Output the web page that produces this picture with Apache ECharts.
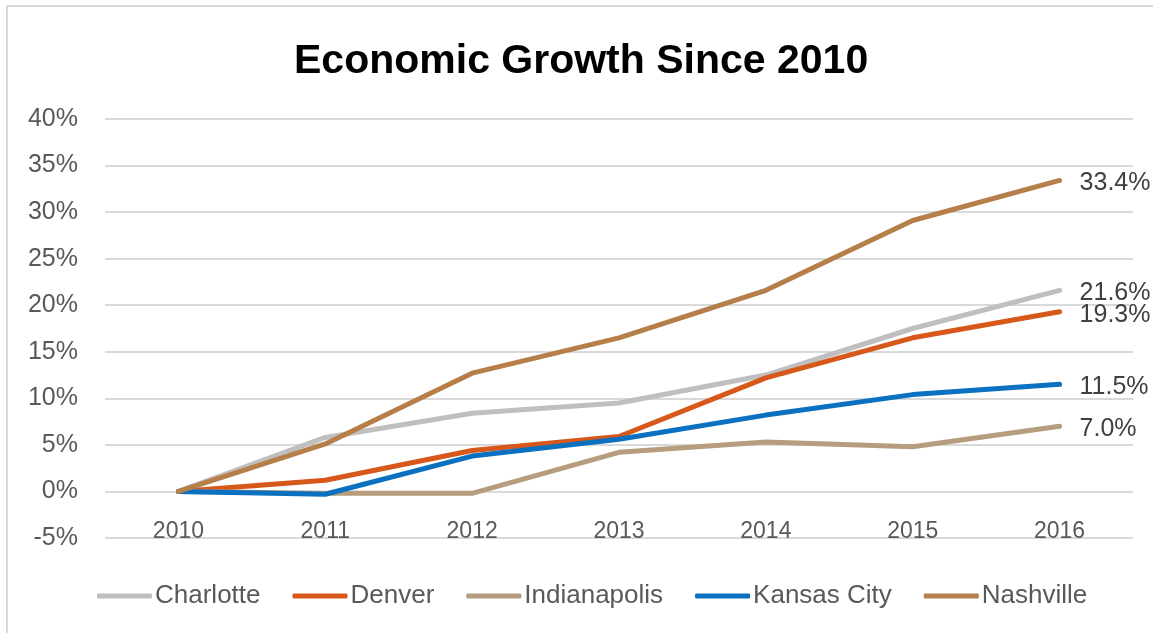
<!DOCTYPE html>
<html>
<head>
<meta charset="utf-8">
<title>Economic Growth Since 2010</title>
<script src="https://cdn.jsdelivr.net/npm/echarts@6/dist/echarts.min.js"></script>
<style>
    html, body { margin: 0; padding: 0; background: #fff; }
    #main { width: 1153px; height: 633px; }
</style>
</head>
<body>
<div id="main"></div>
<script>
// x 轴年份
var years = ['2010', '2011', '2012', '2013', '2014', '2015', '2016']
// 各城市增长率 (%)
var charlotte = [0, 5.8, 8.4, 9.5, 12.5, 17.5, 21.6]
var denver = [0, 1.2, 4.4, 5.9, 12.2, 16.5, 19.3]
var indianapolis = [0, -0.2, -0.2, 4.2, 5.3, 4.8, 7.0]
var kansasCity = [0, -0.3, 3.8, 5.6, 8.2, 10.4, 11.5]
var nashville = [0, 5.1, 12.7, 16.5, 21.6, 29.1, 33.4]

var seriesList = [
    { name: 'Charlotte', data: charlotte, color: '#bfbfbf' },
    { name: 'Denver', data: denver, color: '#d6581a' },
    { name: 'Indianapolis', data: indianapolis, color: '#b59d7e' },
    { name: 'Kansas City', data: kansasCity, color: '#0a70c0' },
    { name: 'Nashville', data: nashville, color: '#b67f4a' },
]

var fontFamily = 'Liberation Sans, Arial, sans-serif'
var chart = echarts.init(document.getElementById('main'))

var seriesData = []
seriesList.forEach(function (ele) {
    seriesData.push({
        name: ele.name,
        type: 'line',
        data: ele.data,
        symbol: 'none',
        smooth: false,
        color: ele.color,
        lineStyle: { width: 5, color: ele.color, cap: 'round', join: 'round' },
        label: { show: false },
        // 只在最后一个点显示数值
        endLabel: {
            show: true,
            distance: 20,
            offset: [0, 3],
            color: '#404040',
            fontSize: 25,
            fontFamily: fontFamily,
            formatter: function (p) {
                return p.value.toFixed(1) + '%'
            },
        },
    })
})

var option = {
    animation: false,
    title: {
        text: 'Economic Growth Since 2010',
        left: 289,
        top: 36,
        textStyle: {
            color: '#000',
            fontSize: 41,
            fontWeight: 'bold',
            fontFamily: fontFamily,
        },
    },
    graphic: [
        // 图表外框 (左/上)
        { type: 'line', shape: { x1: 7, y1: 6, x2: 7, y2: 633 }, style: { stroke: '#d9d9d9', lineWidth: 2 } },
        { type: 'line', shape: { x1: 7, y1: 6, x2: 1153, y2: 6 }, style: { stroke: '#d9d9d9', lineWidth: 2 } },
    ],
    grid: {
        left: 105,
        right: 20,
        top: 119,
        bottom: 95,
        containLabel: false,
    },
    legend: {
        bottom: 19,
        left: 92,
        icon: 'roundRect',
        itemWidth: 55,
        itemHeight: 5,
        itemGap: 32,
        textStyle: {
            color: '#595959',
            fontSize: 26,
            fontFamily: fontFamily,
            padding: [0, 0, 0, -2],
        },
        data: seriesList.map(function (s) { return s.name }),
    },
    xAxis: {
        type: 'category',
        data: years,
        boundaryGap: true,
        axisLine: { show: false, onZero: false },
        axisTick: { show: false },
        axisLabel: {
            inside: true,
            margin: -5,
            color: '#595959',
            fontSize: 23,
            fontFamily: fontFamily,
        },
        splitLine: { show: false },
    },
    yAxis: {
        type: 'value',
        min: -5,
        max: 40,
        interval: 5,
        axisLine: { show: false },
        axisTick: { show: false },
        axisLabel: {
            margin: 27,
            color: '#595959',
            fontSize: 25,
            fontFamily: fontFamily,
            formatter: '{value}%',
        },
        splitLine: { lineStyle: { color: '#d9d9d9', width: 2 } },
    },
    series: seriesData,
}
chart.setOption(option)
window.addEventListener('resize', chart.resize)
</script>
</body>
</html>
